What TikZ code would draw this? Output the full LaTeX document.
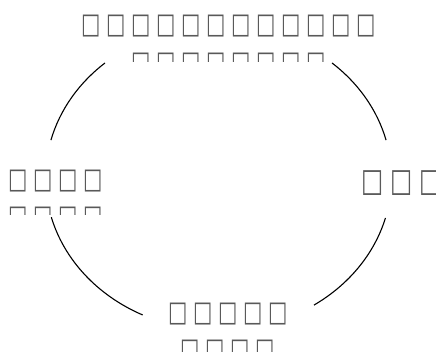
\documentclass[tikz,border=0pt]{standalone}
\usepackage{fontspec}
\usetikzlibrary{calc}
\newfontfamily\boxfont{DejaVu Sans}
\newcommand\tofu{\makebox[25pt]{\scalebox{1}[1.4]{□}}}
\newcommand\tofuw{\makebox[29pt]{\scalebox{1}[1.38]{□}}}
\tikzset{
  lbl/.style={inner sep=0pt, text=black!65, font=\boxfont\fontsize{20.5}{20.5}\selectfont},
  lblbig/.style={lbl, font=\boxfont\fontsize{23.5}{23.5}\selectfont},
  arcline/.style={line width=1.1pt, black}
}
\begin{document}
\begin{tikzpicture}[x=1pt,y=1pt]
\useasboundingbox (0,0) rectangle (436,352);
\clip (0,0) rectangle (436,352);
% labels
\node[lbl] (top) at (228.5,326) {\tofu\tofu\tofu\tofu\tofu\tofu\tofu\tofu\tofu\tofu\tofu\tofu};
\begin{scope}
  \clip (0,290) rectangle (436,352);
  \node[lbl] (top2) at (228.5,288) {\tofu\tofu\tofu\tofu\tofu\tofu\tofu\tofu};
\end{scope}
\node[lbl] (left) at (55.5,170.5) {\tofu\tofu\tofu\tofu};
\begin{scope}
  \clip (0,137) rectangle (200,160);
  \node[lbl] (left2) at (55.5,134) {\tofu\tofu\tofu\tofu};
\end{scope}
\node[lblbig] (right) at (401.5,169) {\tofuw\tofuw\tofuw};
\node[lbl] (bottom) at (228,38) {\tofu\tofu\tofu\tofu\tofu};
\node[lbl] (bottom2) at (227.5,0.5) {\tofu\tofu\tofu\tofu};
% arcs on an ellipse
\coordinate (ctr) at (218.5,174);
\coordinate (a1) at ($(ctr)+(131:173pt and 152.4pt)$);
\coordinate (a2) at ($(ctr)+(194.9:173pt and 152.4pt)$);
\coordinate (a3) at ($(ctr)+(303.5:173pt and 152.4pt)$);
\coordinate (a4) at ($(ctr)+(14.4:173pt and 152.4pt)$);
\draw[arcline] (a1) arc[start angle=131, end angle=165.6, x radius=173pt, y radius=152.4pt];
\draw[arcline] (a2) arc[start angle=194.9, end angle=244, x radius=173pt, y radius=152.4pt];
\draw[arcline] (a3) arc[start angle=303.5, end angle=344.8, x radius=173pt, y radius=152.4pt];
\draw[arcline] (a4) arc[start angle=14.4, end angle=49, x radius=173pt, y radius=152.4pt];
\end{tikzpicture}
\end{document}
